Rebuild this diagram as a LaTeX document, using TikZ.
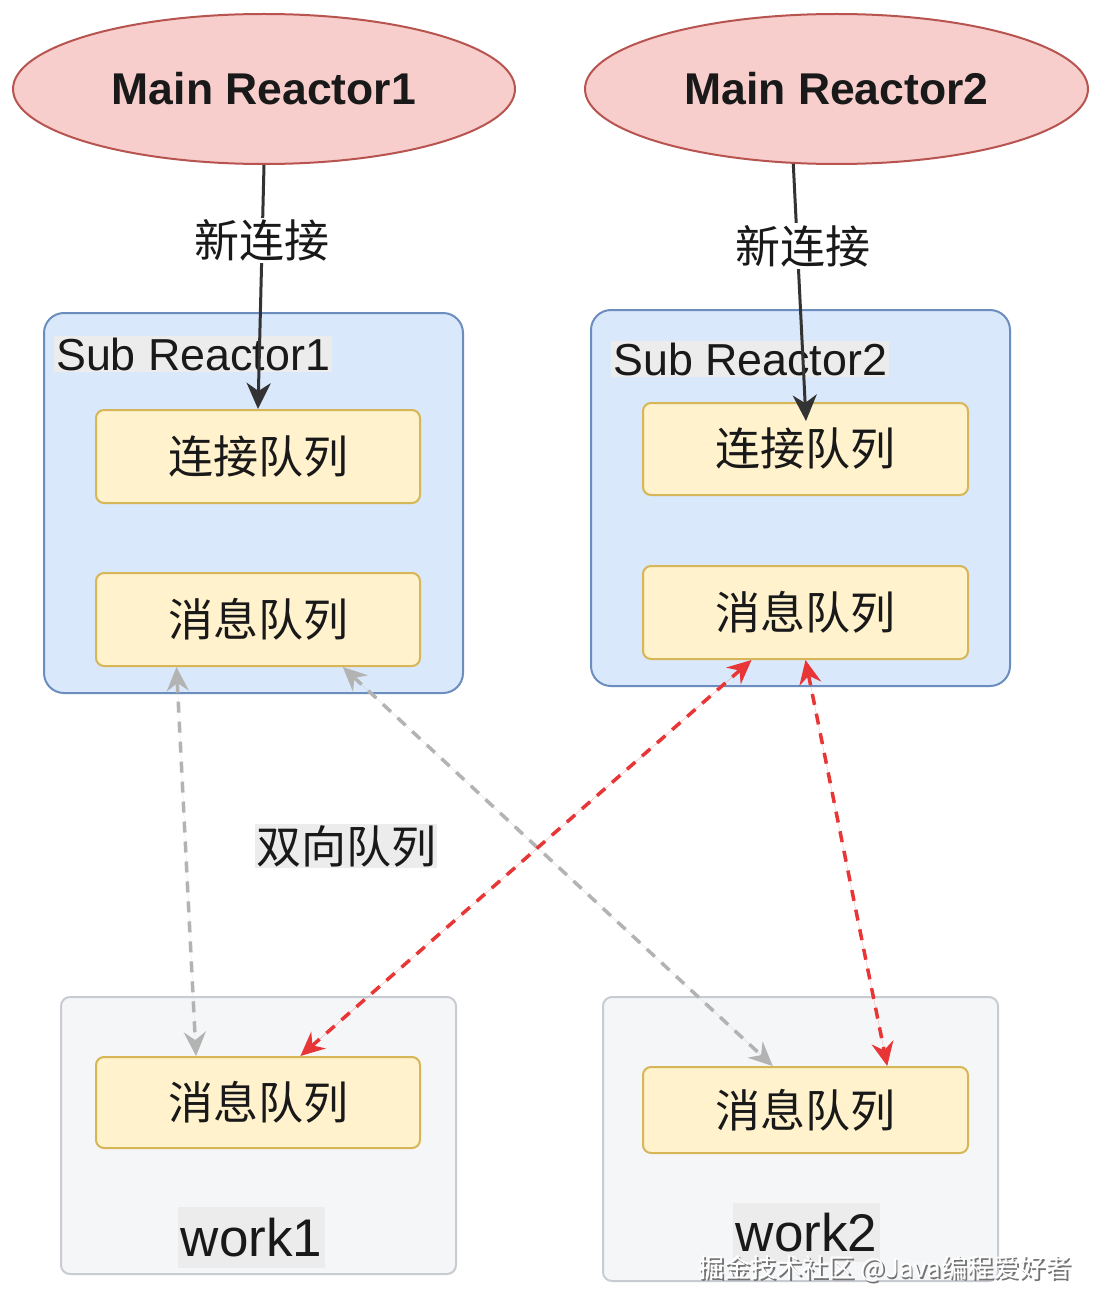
\documentclass[tikz,border=0pt]{standalone}
\usepackage{fontspec}
\setmainfont{Liberation Sans}
\newfontfamily\cjk{Noto Sans CJK SC}
\usetikzlibrary{arrows.meta,shapes.geometric,calc}
\definecolor{redfill}{HTML}{F8CECC}
\definecolor{redline}{HTML}{B85450}
\definecolor{bluefill}{HTML}{DAE8FC}
\definecolor{blueline}{HTML}{6C8EBF}
\definecolor{yelfill}{HTML}{FFF2CC}
\definecolor{yelline}{HTML}{D6B656}
\definecolor{wfill}{HTML}{F5F6F8}
\definecolor{wline}{HTML}{C8CCD2}
\definecolor{darkline}{HTML}{333333}
\definecolor{grayarrow}{HTML}{B3B3B3}
\definecolor{redarrow}{HTML}{E83535}
\definecolor{lblbg}{HTML}{ECECEC}
\begin{document}
\begin{tikzpicture}[x=1pt,y=-1pt,
  mainell/.style={ellipse,draw=redline,fill=redfill,line width=2pt,inner sep=0pt,
    font=\fontsize{44.5}{50}\selectfont\bfseries,text=black!90},
  subbox/.style={rectangle,rounded corners=20pt,draw=blueline,fill=bluefill,line width=2pt,inner sep=0pt},
  workbox/.style={rectangle,rounded corners=9pt,draw=wline,fill=wfill,line width=2pt,inner sep=0pt},
  qbox/.style={rectangle,rounded corners=8pt,draw=yelline,fill=yelfill,line width=2pt,inner sep=0pt,
    minimum width=324pt,font=\cjk\fontsize{45}{50}\selectfont,text=black!90},
  lbl/.style={fill=lblbg,inner sep=2pt,font=\fontsize{44.8}{50}\selectfont,text=black!90},
  cjklbl/.style={font=\cjk\fontsize{45}{50}\selectfont,text=black!90},
  newconn/.style={-{Stealth[length=26pt,width=24pt,inset=8pt]},draw=darkline,line width=3pt},
  grayd/.style={{Stealth[length=24pt,width=22pt,inset=8pt]}-{Stealth[length=24pt,width=22pt,inset=8pt]},
    draw=grayarrow,fill=grayarrow,line width=3.5pt,dash pattern=on 11pt off 9pt},
  redd/.style={{Stealth[length=24pt,width=22pt,inset=8pt]}-{Stealth[length=24pt,width=22pt,inset=8pt]},
    draw=redarrow,fill=redarrow,line width=3.5pt,dash pattern=on 11pt off 9pt}
]
\useasboundingbox (0,0) rectangle (1105,1316);
\fill[white] (0,0) rectangle (1105,1316);

% main reactors
\node[mainell,minimum width=502pt,minimum height=150pt] (E1) at (264,89) {Main Reactor1};
\node[mainell,minimum width=503pt,minimum height=150pt] (E2) at (836.5,89) {Main Reactor2};

% sub reactors
\node[subbox,minimum width=419pt,minimum height=380pt] (S1) at (253.5,503) {};
\node[subbox,minimum width=419pt,minimum height=376pt] (S2) at (800.5,498) {};
\node[lbl,anchor=west] (S1l) at (54,354) {Sub Reactor1};
\node[lbl,anchor=west] (S2l) at (611,359) {Sub Reactor2};

\node[qbox,minimum height=93pt] (Y1a) at (258,456.5) {连接队列};
\node[qbox,minimum height=93pt] (Y1b) at (258,619.5) {消息队列};
\node[qbox,minimum width=325pt,minimum height=92pt] (Y2a) at (805.5,449) {连接队列};
\node[qbox,minimum width=325pt,minimum height=93pt] (Y2b) at (805.5,612.5) {消息队列};

% workers
\node[workbox,minimum width=395pt,minimum height=277pt] (W1) at (258.5,1135.5) {};
\node[workbox,minimum width=395pt,minimum height=284pt] (W2) at (800.5,1139) {};
\node[qbox,minimum height=91pt] (Y3) at (258,1102.5) {消息队列};
\node[qbox,minimum width=325pt,minimum height=86pt] (Y4) at (805.5,1110) {消息队列};
\node[fill=lblbg,inner sep=0pt,minimum width=147pt,minimum height=61pt,
  font=\fontsize{53}{56}\selectfont,text=black!90] (W1l) at (251.5,1237.5) {work1};
\node[fill=lblbg,inner sep=0pt,minimum width=147pt,minimum height=59pt,
  font=\fontsize{53}{56}\selectfont,text=black!90] (W2l) at (806.5,1232.5) {work2};

\node[cjklbl,fill=lblbg,inner sep=1pt] (BQ) at (346,846) {双向队列};

% new connection arrows
\coordinate (T2) at (806,421);
\draw[newconn] (E1.south) -- node[cjklbl,fill=white,inner sep=2pt,pos=0.31] (N1) {新连接} (Y1a.north);
\draw[newconn] (E2.-120) -- node[cjklbl,fill=white,inner sep=2pt,pos=0.32,xshift=6pt] (N2) {新连接} (T2);

% bidirectional queues
\coordinate (g1a) at ($(Y1b.south west)!0.25!(Y1b.south east)$);
\coordinate (g1b) at ($(Y3.north west)!0.31!(Y3.north east)$);
\coordinate (g2a) at ($(Y1b.south west)!0.76!(Y1b.south east)$);
\coordinate (g2b) at ($(Y4.north west)!0.40!(Y4.north east)$);
\coordinate (r1a) at ($(Y2b.south west)!0.335!(Y2b.south east)$);
\coordinate (r1b) at ($(Y3.north west)!0.63!(Y3.north east)$);
\coordinate (r2a) at (Y2b.south);
\coordinate (r2b) at ($(Y4.north west)!0.75!(Y4.north east)$);
\draw[grayd] (g1a) -- (g1b);
\draw[grayd] (g2a) -- (g2b);
\draw[redd] (r1a) -- (r1b);
\draw[redd] (r2a) -- (r2b);

% watermark
\node[font=\cjk\fontsize{26}{29}\selectfont,text=black!55,anchor=east] (WMs) at (1076.5,1270.5) {掘金技术社区 @Java编程爱好者};
\node[font=\cjk\fontsize{26}{29}\selectfont,text=white,anchor=east] (WM) at (1075,1269) {掘金技术社区 @Java编程爱好者};
\end{tikzpicture}
\end{document}
